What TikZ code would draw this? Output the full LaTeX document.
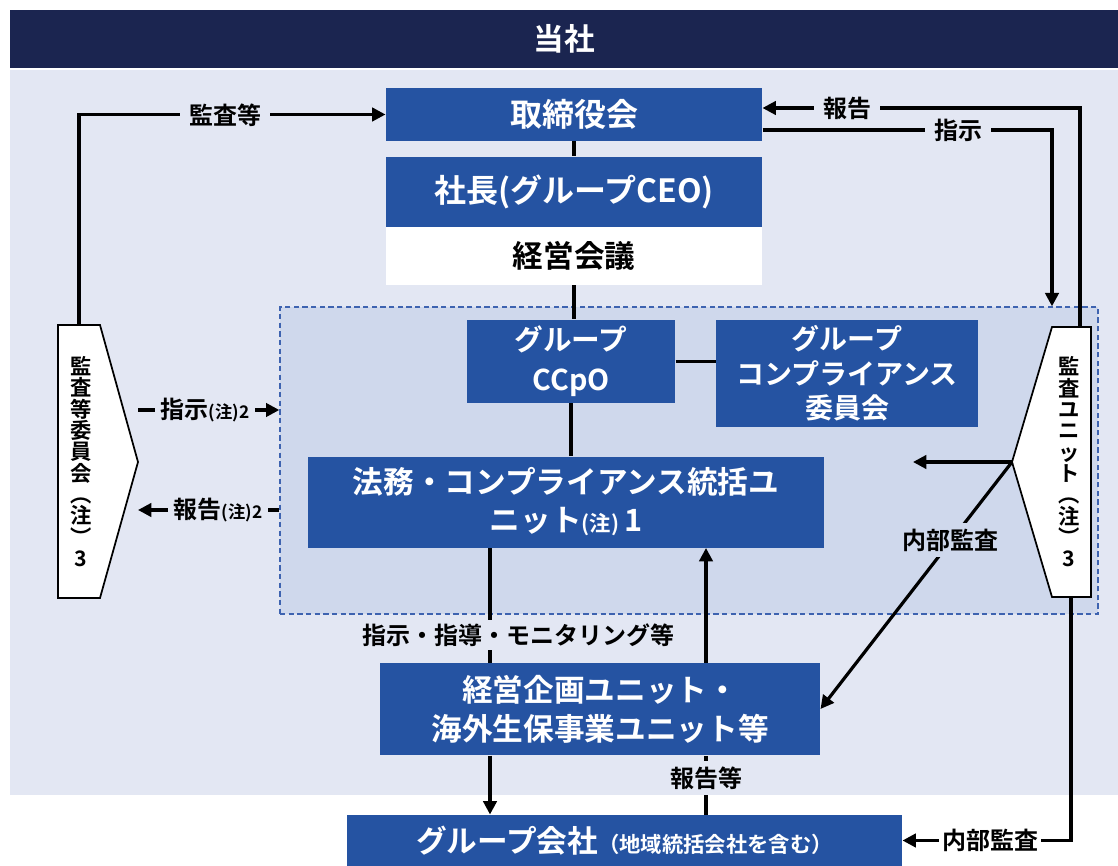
\documentclass[tikz,border=0pt]{standalone}
\usepackage{fontspec}
\setmainfont{Noto Sans CJK JP}[BoldFont=* Bold]
\usetikzlibrary{arrows.meta}

\definecolor{hdnavy}{HTML}{1B2550}
\definecolor{boxblue}{HTML}{2553A2}
\definecolor{pagebg}{HTML}{E3E7F3}
\definecolor{zonebg}{HTML}{CFD8EC}
\definecolor{zoneline}{HTML}{3E63B0}

\tikzset{every picture/.style={line width=0.75pt}}
\tikzset{
  bluebox/.style={fill=boxblue, text=white, inner sep=0pt, align=center,
    font=\bfseries\fontsize{22}{29}\selectfont},
  whitebox/.style={fill=white, text=black, inner sep=0pt, align=center,
    font=\bfseries\fontsize{23}{28}\selectfont},
  zonebox/.style={draw=zoneline, fill=zonebg, dashed, line width=1pt,
    dash pattern=on 4pt off 2.5pt, inner sep=0pt},
  pent/.style={draw=black, fill=white, line width=1.3pt, line join=miter},
  penttext/.style={inner sep=0pt, align=center,
    font=\bfseries\fontsize{16}{16}\selectfont},
  conn/.style={line width=2.4pt},
  arr/.style={conn, -{Triangle[length=10pt,width=10pt]}},
  lbl/.style={fill=pagebg, inner xsep=7pt, inner ysep=1pt,
    font=\bfseries\fontsize{18}{21}\selectfont},
  note/.style={font=\bfseries\fontsize{13}{14}\selectfont}
}

\begin{document}
\begin{tikzpicture}[x=0.75pt,y=0.75pt,yscale=-1,xscale=1]
\useasboundingbox (0,0) rectangle (1118,866);
\fill[white] (0,0) rectangle (1118,866);

%Shape: Rectangle (page background)
\fill[pagebg] (10,70) rectangle (1118,795);

% Header
\node[fill=hdnavy, text=white, inner sep=0pt, minimum width=831pt, minimum height=43.5pt,
  font=\bfseries\fontsize{23}{28}\selectfont] (tosha) at (564,39) {当社};

%Shape: Rectangle (dashed zone)
\node[zonebox, minimum width=613.5pt, minimum height=230.25pt] (zone) at (689,460.5) {};

% Top boxes
\node[bluebox, minimum width=282pt, minimum height=39.75pt,
  font=\bfseries\fontsize{24}{28}\selectfont] (board) at (574,114.5) {取締役会};
\node[bluebox, minimum width=282pt, minimum height=52.5pt,
  font=\bfseries\fontsize{24}{28}\selectfont] (ceo) at (574,192) {社長(グループCEO)};
\node[whitebox, minimum width=282pt, minimum height=43.5pt] (mtg) at (574,256) {経営会議};

% Boxes inside the zone
\node[bluebox, minimum width=156pt, minimum height=62.25pt,
  font=\bfseries\fontsize{21.5}{30}\selectfont] (ccpo) at (571,361.5) {グループ\\CCpO};
\node[bluebox, minimum width=196.5pt, minimum height=80.25pt,
  font=\bfseries\fontsize{21}{26}\selectfont] (cmte) at (847,373.5) {グループ\\コンプライアンス\\委員会};
\node[bluebox, minimum width=387pt, minimum height=68.25pt,
  font=\bfseries\fontsize{23}{28.5}\selectfont] (legal) at (566,502)
  {法務・コンプライアンス統括ユ\\ニット{\fontsize{16}{16}\selectfont(注)}\,1};

% Lower boxes
\node[bluebox, minimum width=330pt, minimum height=69pt,
  font=\bfseries\fontsize{23}{29}\selectfont] (plan) at (600,709) {経営企画ユニット・\\海外生保事業ユニット等};
\node[bluebox, minimum width=416.25pt, minimum height=38.25pt,
  font=\bfseries\fontsize{23}{28}\selectfont] (grp) at (624.5,840.5)
  {グループ会社{\fontsize{16}{18}\selectfont（地域統括会社を含む）}};

%Shape: Pentagons
\draw[pent] (58,325) -- (100,325) -- (138,462) -- (100,598) -- (58,598) -- cycle;
\node[penttext, minimum width=31.5pt, minimum height=204.75pt] (acomm) at (81,461.5)
  {監\\査\\等\\委\\員\\会\\︵\\注\\︶\\3};
\draw[pent] (1091,327) -- (1052,327) -- (1012,462) -- (1052,597) -- (1091,597) -- cycle;
\node[penttext, minimum width=29.25pt, minimum height=202.5pt] (aunit) at (1069,462)
  {監\\査\\ユ\\ニ\\ッ\\ト\\︵\\注\\︶\\3};

% Free ends
\coordinate (autip) at (1012,462);
\coordinate (aul) at (913,462);
\coordinate (rep) at (1080,108);
\coordinate (ins) at (1052,130);
\coordinate (lt1) at (138,410);
\coordinate (lt2) at (138,510);
\coordinate (dn) at (490,0);
\coordinate (up) at (706,0);

%Straight Lines
\draw[conn] (board) -- (ceo);
\draw[conn] (mtg.south) -- (mtg.south |- ccpo.north);
\draw[conn] (ccpo.south) -- (ccpo.south |- legal.north);
\draw[conn] (ccpo.east) -- (ccpo.east -| cmte.west);
\draw[conn] (legal.south -| dn) -- (plan.north -| dn);
\draw[arr] (plan.north -| up) -- (legal.south -| up);
\draw[arr] (plan.south -| dn) -- (grp.north -| dn);
\draw[conn] (grp.north -| up) -- (plan.south -| up);

\draw[arr] (acomm.north -| 79,0) |- (board.west);
\draw[arr] (aunit.north -| rep) -- (rep) -- (rep -| board.east);
\draw[arr] (ins -| board.east) -- (ins) -- (ins |- zone.north);
\draw[arr] (lt1) -- (lt1 -| zone.west);
\draw[arr] (lt2 -| zone.west) -- (lt2);
\draw[arr] (autip) -- (aul);
\draw[arr] (autip) -- (plan.east);
\draw[arr] (aunit.south -| 1071,0) |- (grp.east);

% Text Node
\node[lbl] (kansa) at (225,115) {監査等};
% Text Node
\node[lbl] (hokoku) at (847,108) {報告};
% Text Node
\node[lbl] (shiji) at (958,130) {指示};
% Text Node
\node[lbl, inner xsep=4pt] (shijin) at (205,410) {指示{\fontsize{13}{14}\selectfont(注)2}};
% Text Node
\node[lbl, inner xsep=4pt] (hokokun) at (218,510) {報告{\fontsize{13}{14}\selectfont(注)2}};
% Text Node
\node[lbl, fill=zonebg, inner xsep=2pt, inner ysep=4pt] (naibu) at (950,540) {内部監査};
% Text Node
\node[lbl, inner xsep=2pt, inner ysep=3pt] (shido) at (518,635) {指示・指導・モニタリング等};
% Text Node
\node[lbl, inner xsep=2pt, inner ysep=4pt] (hokokuto) at (706,778) {報告等};
% Text Node
\node[lbl, fill=white, inner xsep=2pt] (naibu2) at (990,840) {内部監査};

\end{tikzpicture}
\end{document}
